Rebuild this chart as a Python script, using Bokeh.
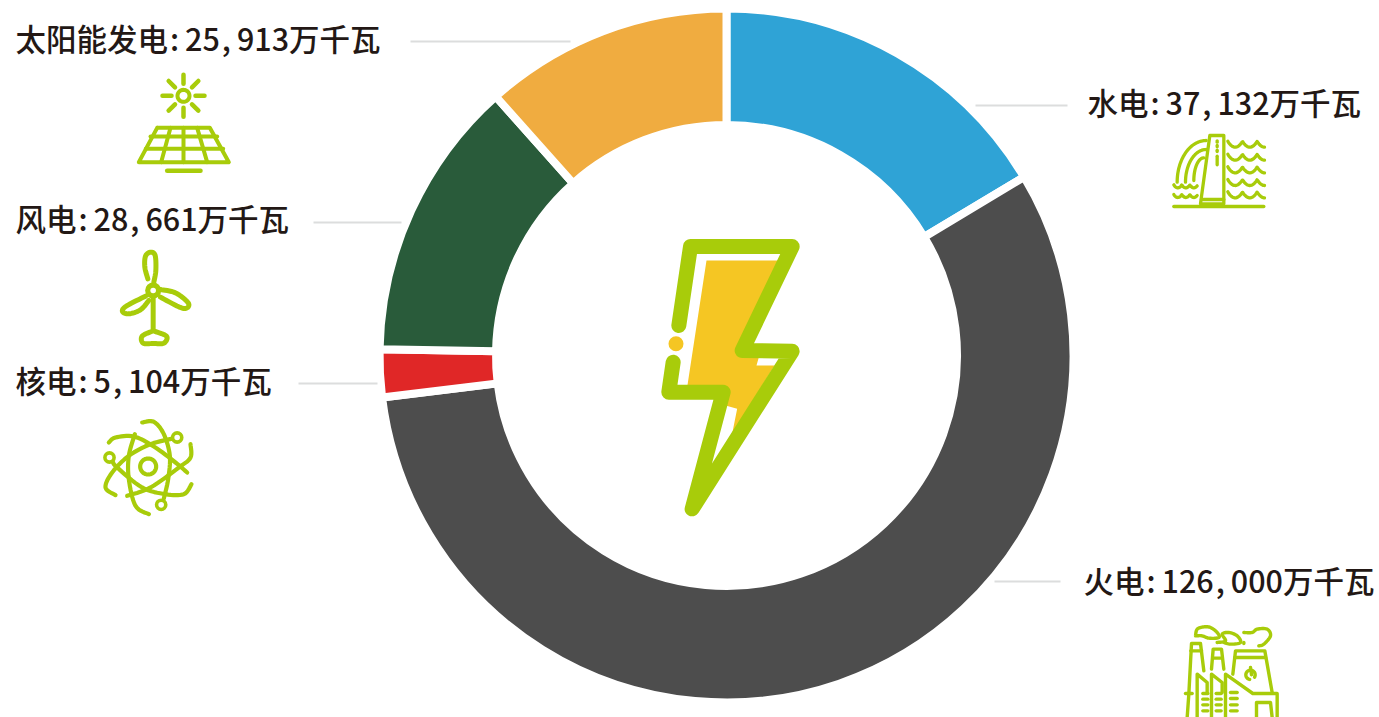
import numpy as np
from bokeh.plotting import figure
from bokeh.models import Range1d, ColumnDataSource
from bokeh.core.properties import value
from bokeh.embed import file_html
from bokeh.resources import INLINE

# ---- data ----
categories = ["水电", "火电", "核电", "风电", "太阳能发电"]
capacity = [37132, 126000, 5104, 28661, 25913]          # as printed on the labels
slice_degrees = [59.05, 204.0, 8.0, 47.25, 41.7]
labels = ["水电:37,132万千瓦", "火电:126,000万千瓦", "核电:5,104万千瓦", "风电:28,661万千瓦", "太阳能发电:25,913万千瓦"]
colors = ["#2fa3d6", "#4d4d4d", "#e02727", "#295b3a", "#f0ac40"]

W, H = 1379, 717
GREEN = "#a8cc0a"
SP = "\u2009"
HAIR = "\u200a"
p = figure(width=W, height=H, output_backend="svg", toolbar_location=None,
           x_range=Range1d(0, W), y_range=Range1d(0, H), min_border=0,
           outline_line_color=None, background_fill_color="white", border_fill_color="white")
p.axis.visible = False
p.grid.visible = False

def Y(y):
    return 717 - np.asarray(y, dtype=float)

# ---- donut ----
CX, CY = 726, 355
edges = np.radians(np.concatenate([[0], np.cumsum(slice_degrees)]))
src = ColumnDataSource(dict(x=[CX] * 5, y=[Y(CY)] * 5, start=np.pi / 2 - edges[:-1], end=np.pi / 2 - edges[1:],
                            color=colors, name=categories))
p.annular_wedge(x="x", y="y", inner_radius=230.5, outer_radius=347, start_angle="start", end_angle="end",
                direction="clock", fill_color="color", line_color="white", line_width=8, source=src)

# ---- leaders + labels ----
lead_x = [[975, 1067], [994, 1060], [298, 377], [313, 401], [410, 570]]
lead_y = [[105, 105], [581, 581], [383, 383], [222, 222], [41, 41]]
p.multi_line(lead_x, [list(Y(v)) for v in lead_y], line_color="#dcdddd", line_width=2)
tx = [1087, 1083, 15, 15, 15]
ty = [101, 579, 379, 217, 37]
shown = [t.replace(":", HAIR + ":" + SP).replace(",", HAIR + "," + SP) for t in labels]
p.text(x=tx, y=list(Y(ty)), text=shown, text_font=value("'Noto Sans CJK SC Medium', 'Noto Sans CJK SC'"),
       text_font_size="30.5px", text_color="#231815", text_align="left", text_baseline="middle")

# ---- helpers for icons ----
def Z(pts, ox, oy, s=3.0):
    a = np.array(pts, dtype=float)
    return ox + a[:, 0] / s, 717 - (oy + a[:, 1] / s)

def smooth(pts, n=8):
    a = np.array(pts, dtype=float)
    b = np.vstack([a[0], a, a[-1]])
    out = []
    for i in range(1, len(b) - 2):
        p0, p1, p2, p3 = b[i - 1], b[i], b[i + 1], b[i + 2]
        for t in np.linspace(0, 1, n, endpoint=False):
            out.append(0.5 * (2 * p1 + (p2 - p0) * t + (2 * p0 - 5 * p1 + 4 * p2 - p3) * t ** 2 + (3 * p1 - p0 - 3 * p2 + p3) * t ** 3))
    out.append(b[-2])
    return out

def stroke(paths, ox, oy, w=3.0, color=GREEN, s=3.0):
    xs, ys = [], []
    for q in paths:
        x, y = Z(q, ox, oy, s)
        xs.append(list(x)); ys.append(list(y))
    p.multi_line(xs, ys, line_color=color, line_width=w, line_cap="round", line_join="round")

def arc(cx, cy, rx, ry, a0, a1, n=40):
    t = np.radians(np.linspace(a0, a1, n))
    return np.column_stack([cx + rx * np.cos(t), cy - ry * np.sin(t)]).tolist()

def waves(x0, x1, y, period, amp):
    xs = np.linspace(x0, x1, 60)
    return np.column_stack([xs, y + amp * np.abs(np.sin(np.pi * (xs - x0) / period)) ** 0.8]).tolist()

# ---- centre bolt ----
yx, yy = Z([(228, 120), (445, 120), (330, 390), (385, 410), (378, 435), (432, 435), (305, 640), (320, 565),
            (285, 555), (290, 500), (170, 500)], 630, 220)
p.patch(yx, yy, fill_color="#f5c623", line_color=None)
stroke([[(145, 315), (180, 78), (485, 78), (335, 390), (485, 392), (185, 865), (278, 515), (115, 515), (128, 425)]],
       630, 220, w=15)
p.circle(x=[675.5], y=[Y(343.3)], radius=7.5, fill_color="#f5c623", line_color=None)

# ---- solar ----
rays = []
for a in range(0, 360, 45):
    c, si = np.cos(np.radians(a)), np.sin(np.radians(a))
    rays.append([(549 + 36 * c, 256 + 36 * si), (549 + 63 * c, 256 + 63 * si)])
stroke(rays, 0, 10, w=4.5)
stroke([arc(549, 256, 18, 18, 0, 360)], 0, 10, w=4)
stroke([[(470, 352), (628, 352), (685, 455), (415, 455), (470, 352)],
        [(450, 378), (650, 378)], [(436, 415), (668, 415)],
        [(510, 352), (482, 455)], [(549, 352), (549, 455)], [(590, 352), (620, 455)]], 0, 10, w=4)
stroke([[(500, 481), (600, 481)]], 0, 10, w=4.5)

# ---- wind ----
stroke([[(128, 140), (128, 250)],
        smooth([(112, 100), (103, 65), (105, 32), (120, 20), (134, 30), (136, 75), (130, 110)]),
        smooth([(150, 132), (195, 142), (233, 172), (228, 188), (205, 184), (150, 155)]),
        smooth([(105, 152), (47, 182), (36, 198), (55, 205), (90, 193), (115, 165)]),
        smooth([(128, 256), (95, 272), (98, 293), (128, 294), (160, 293), (168, 272), (128, 256)])], 110, 245, w=5)
p.circle(x=[110 + 128 / 3], y=[Y(245 + 135 / 3)], radius=8, fill_color=GREEN, line_color=None)
p.circle(x=[110 + 128 / 3], y=[Y(245 + 135 / 3)], radius=2.8, fill_color="white", line_color=None)

# ---- nuclear ----
stroke([arc(158, 162, 24, 24, 0, 360)], 95, 412, w=4.2)
stroke([smooth([(140, 30), (175, 28), (205, 65), (223, 130), (218, 200), (205, 258)]),
        smooth([(40, 90), (60, 75), (115, 72), (175, 102), (240, 150), (275, 180)]),
        smooth([(285, 95), (285, 135), (250, 165), (165, 225), (95, 250)]),
        smooth([(288, 215), (265, 245), (210, 245), (140, 225), (65, 165), (52, 148)]),
        smooth([(160, 305), (120, 280), (100, 200), (100, 130), (118, 65)]),
        smooth([(60, 248), (30, 225), (50, 180), (100, 130), (165, 95), (232, 78)])], 95, 412, w=4.2)
for c in [(245, 75), (42, 135), (197, 277)]:
    p.circle(x=[95 + c[0] / 3], y=[Y(412 + c[1] / 3)], radius=4.6, fill_color="white", line_color=GREEN, line_width=3.6)

# ---- hydro ----
stroke([[(25, 243), (295, 243)],
        [(105, 235), (133, 30), (175, 30), (175, 235), (105, 235)],
        [(108, 222), (175, 222)],
        [(155, 46), (155, 50)], [(155, 60), (155, 64)], [(155, 74), (155, 78)], [(155, 92), (155, 118)],
        arc(122, 170, 87, 125, 90, 180),
        arc(122, 170, 62, 98, 90, 180),
        arc(115, 165, 30, 68, 90, 180),
        ] + [waves(187, 297, y_, 44, 18) for y_ in (47, 86, 124, 162, 199)]
          + [waves(25, 95, y_, 24, 9) for y_ in (178, 207)], 1165, 125, w=3.3)

# ---- thermal ----
stroke([[(35, 300), (40, 230), (48, 78), (75, 78), (85, 160)], [(46, 100), (78, 100)],
        [(108, 155), (113, 95), (138, 95), (145, 155)], [(112, 122), (140, 122)],
        [(172, 170), (180, 100), (268, 100), (290, 225)], [(178, 120), (270, 120)],
        [(65, 300), (65, 170), (95, 195), (95, 225)], [(108, 300), (108, 170), (140, 195), (140, 225)],
        [(150, 300), (150, 170), (232, 228), (305, 228), (305, 300)],
        [(30, 228), (50, 228)],
        [(243, 300), (243, 255), (285, 255), (290, 300)],
        ] + [[(x0, y_), (x0 + 15, y_)] for x0 in (82, 122) for y_ in (228, 245, 262, 280)]
          + [[(165, y_), (185, y_)] for y_ in (225, 243, 262, 280)]
          + [smooth([(60, 55), (65, 35), (85, 28), (105, 30), (125, 45), (130, 60), (100, 62), (80, 55), (60, 55)]),
             smooth([(125, 75), (150, 70), (140, 50), (160, 45), (185, 55), (195, 75), (165, 80), (145, 75)]),
             smooth([(205, 45), (230, 45), (245, 35), (275, 35), (285, 55), (265, 80), (250, 85)]),
             arc(225, 172, 14, 14, -30, 260), [(225, 150), (228, 172)], [(205, 75), (205, 78)]], 1175, 617, w=3.4)

open("out.html", "w").write(file_html(p, INLINE))
